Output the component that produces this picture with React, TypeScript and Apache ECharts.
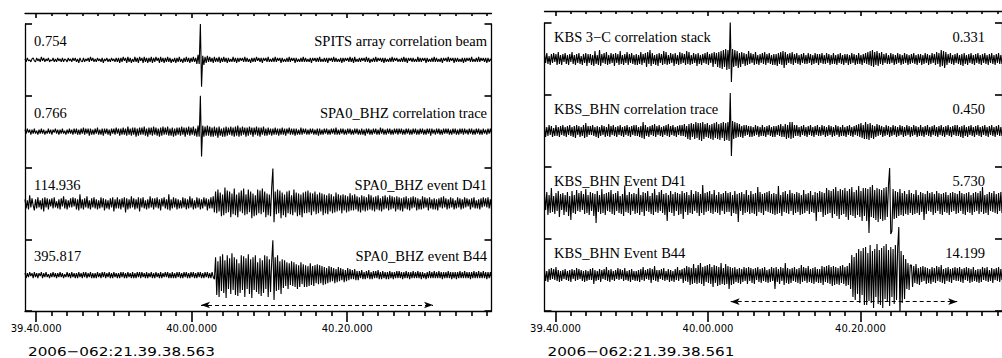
import React, { useEffect, useRef } from "react";
import * as echarts from "echarts";

// Record window: 60 s, times in seconds after 21:39:00
const WINDOW = 60;
const LEFT_START = 38.563;
const RIGHT_START = 38.561;
const LEFT_DATE = "2006−062:21.39.38.563";
const RIGHT_DATE = "2006−062:21.39.38.561";

const MAJOR_TICKS = [40, 60, 80];
const MAJOR_LABELS = ["39.40.000", "40.00.000", "40.20.000"];
const MINOR_STEP = 2;

const LEFT_NAMES = [
  "SPITS array correlation beam",
  "SPA0_BHZ correlation trace",
  "SPA0_BHZ event D41",
  "SPA0_BHZ event B44",
];
const LEFT_PEAKS = ["0.754", "0.766", "114.936", "395.817"];

const RIGHT_NAMES = [
  "KBS 3−C correlation stack",
  "KBS_BHN correlation trace",
  "KBS_BHN Event D41",
  "KBS_BHN Event B44",
];
const RIGHT_PEAKS = ["0.331", "0.450", "5.730", "14.199"];

// Duration arrows (start, end time in s)
const LEFT_ARROW = [61.2, 91.04];
const RIGHT_ARROW = [62.98, 92.69];

// Trace samples, uniformly spaced across the window (display units: 72 per trace slot)
const SPITS_BEAM = [
  1,-2,2,-1,0,-2,1,2,-1,-2, 2,-1,1,-2,3,-1,2,-2,1,-1, 2,-2,0,-1,2,-2,1,-2,2,-1, 1,-2,2,-2,1,0,-2,2,-1,1,
  -2,2,-1,2,-2,1,-3,2,-1,-2, 2,-2,1,-1,2,-2,3,-1,2,-2, 1,-2,2,-1,1,-2,2,-3,1,-1, 2,-2,1,-2,2,-1,1,-2,2,-2,
  2,-3,2,-2,3,-1,2,-3,3,-2, 2,-3,1,-2,3,-2,2,-3,3,-1, 2,-3,3,-2,2,-3,2,-2,3,-3, 2,-2,3,-1,2,-3,3,-2,2,-3,
  2,-2,3,-2,2,-3,1,-2,2,-3, 2,-2,3,-2,1,-3,2,-2,3,-2, 2,-3,2,-2,3,-2,2,-4,5,-4, 36,-27,4,-5,3,-3,4,-2,3,-2,
  2,-3,3,-2,2,-2,3,-3,2,-2, 3,-2,2,-3,2,-2,1,-2,3,-2, 2,-3,2,-2,2,-1,2,-2,3,-2, 2,-2,1,-3,2,-2,2,-2,3,-1,
  2,-2,2,-3,2,-1,2,-2,3,-2, 1,-2,2,-2,3,-2,2,-1,2,-3, 2,-2,1,-2,2,-2,3,-2,2,-1, 2,-3,2,-2,1,-2,2,-2,3,-2,
  2,-2,1,-2,2,-3,2,-1,2,-2, 2,-2,3,-2,1,-2,2,-2,2,-3, 2,-1,2,-2,3,-2,2,-2,1,-2, 2,-3,2,-2,2,-1,2,-2,3,-2,
  2,-3,3,-2,1,-2,2,-2,2,-1, 2,-2,3,-2,2,-3,1,-2,2,-2, 3,-2,2,-1,2,-2,2,-3,2,-2, 1,-2,2,-2,3,-2,2,-1,2,-2,
  1,-2,2,-2,3,-2,2,-3,2,-1, 2,-2,2,-2,1,-2,3,-2,2,-2, 2,-1,2,-3,2,-2,1,-2,2,-2, 3,-2,2,-2,1,-2,2,-3,2,-1,
  2,-2,3,-2,2,-1,2,-3,2,-2, 2,-2,1,-2,2,-3,2,-2,2,-1, 2,-2,3,-2,1,-2,2,-2,3,-2, 2,-1,2,-2,2,-3,2,-2,1,-1,
];
const SPA0_CORR = [
  2,-2,3,-1,2,-3,2,-2,3,-2, 1,-3,2,-2,3,-2,2,-3,1,-2, 3,-2,2,-3,2,-1,3,-2,2,-3, 2,-2,3,-2,1,-3,2,-2,3,-2,
  2,-3,3,-2,3,-3,2,-3,3,-2, 4,-3,3,-2,3,-4,3,-3,2,-3, 3,-2,4,-3,2,-3,3,-4,3,-2, 3,-3,2,-4,3,-2,3,-3,4,-2,
  3,-4,3,-3,4,-3,3,-4,5,-3, 3,-4,4,-3,4,-5,3,-4,4,-3, 4,-3,5,-4,3,-5,4,-3,4,-4, 5,-3,4,-4,3,-5,4,-4,5,-3,
  4,-3,5,-4,3,-4,4,-5,3,-4, 4,-3,4,-4,5,-3,4,-5,4,-3, 5,-4,4,-3,5,-4,3,-5,6,-5, 36,-25,6,-5,5,-4,6,-4,5,-5,
  4,-5,5,-4,4,-6,5,-4,3,-5, 4,-5,5,-4,4,-3,5,-4,4,-5, 5,-4,6,-5,4,-4,5,-3,4,-5, 4,-4,5,-3,4,-5,4,-3,5,-4,
  4,-5,4,-3,5,-4,3,-4,4,-3, 3,-4,3,-3,4,-3,3,-4,3,-3, 4,-3,3,-4,3,-2,4,-3,3,-3, 3,-4,3,-3,2,-3,4,-3,3,-2,
  3,-3,2,-3,3,-2,3,-3,2,-3, 3,-4,3,-3,2,-3,3,-2,3,-3, 2,-3,3,-2,3,-3,4,-3,2,-3, 3,-2,3,-3,2,-3,3,-2,3,-3,
  2,-3,3,-2,3,-3,2,-3,3,-3, 2,-4,3,-2,3,-3,2,-3,3,-2, 3,-3,2,-3,4,-2,3,-3,2,-3, 3,-2,3,-3,2,-3,3,-2,3,-3,
  3,-2,3,-3,2,-3,3,-2,3,-3, 2,-3,3,-2,3,-3,2,-3,3,-2, 3,-3,2,-3,3,-2,3,-4,3,-2, 2,-3,3,-2,3,-3,2,-3,3,-2,
  3,-2,3,-3,2,-3,3,-2,3,-3, 2,-3,3,-2,3,-3,3,-2,2,-3, 3,-2,3,-3,2,-3,3,-2,3,-3, 2,-3,3,-2,2,-3,3,-2,3,-2,
];
const SPA0_D41 = [
  4,-5,3,-6,8,-4,5,-2,-7,4, -5,6,-4,3,-6,5,-8,6,-4,5, -6,4,-3,5,-5,6,-4,2,-5,4, -6,5,-3,7,-5,4,-6,3,-4,5,
  -4,6,-3,5,-6,4,-7,9,-5,4, -6,5,-4,7,-5,3,-6,5,-4,6, -5,4,-6,3,-5,6,-4,5,-7,4, -5,3,-6,5,-4,6,-8,4,-5,6,
  -5,4,-6,5,-4,6,-9,5,-6,4, -5,7,-4,5,-6,4,-5,6,-8,5, -4,6,-5,3,-6,4,-5,7,-4,5, -6,5,-4,6,-5,4,-7,5,-3,6,
  -5,4,-6,9,-7,4,-5,6,-4,5, -6,4,-5,3,-5,6,-4,5,-6,4, -5,7,-4,5,-6,3,-5,6,-4,5, -6,4,-5,6,-3,5,-7,4,-5,6,
  -5,7,-9,12,-10,14,-8,11,-13,9, -12,16,-10,13,-9,12,-14,10,-11,15, -12,9,-14,11,-8,13,-10,15,-12,9, -11,14,-9,12,-15,10,-13,8,-12,14,
  -10,13,-11,15,-9,12,-14,10,-12,9, -13,16,35,-19,12,-11,14,-10,13,-15, 11,-12,9,-14,12,-10,13,-11,8,-12, 14,-9,11,-13,10,-12,9,-14,11,-10,
  12,-10,13,-9,11,-12,10,-8,12,-11, 9,-10,11,-8,10,-12,9,-10,8,-11, 10,-8,9,-10,7,-9,11,-8,9,-7, 8,-10,9,-7,8,-9,7,-8,10,-7,
  8,-7,9,-6,7,-8,6,-9,8,-7, 7,-8,6,-7,9,-6,8,-7,6,-8, 7,-6,8,-7,5,-8,7,-6,8,-5, 6,-7,8,-6,7,-5,6,-8,7,-6,
  6,-7,5,-8,6,-5,7,-6,5,-7, 6,-5,7,-4,6,-7,5,-6,4,-6, 7,-5,6,-4,5,-7,6,-5,4,-6, 5,-6,4,-7,5,-4,6,-5,7,-4,
  5,-6,4,-5,6,-4,5,-6,3,-5, 6,-4,5,-6,4,-5,6,-4,5,-3, 4,-6,5,-4,6,-5,3,-5,4,-6, 5,-4,6,-3,5,-4,6,-5,4,-5,
];
const SPA0_B44 = [
  2,-3,2,-2,3,-1,2,-3,3,-2, 2,-3,2,-1,3,-3,2,-2,3,-2, 1,-3,2,-2,3,-2,2,-3,2,-2, 3,-2,2,-3,1,-2,3,-2,2,-3,
  3,-2,2,-3,2,-3,3,-2,2,-3, 3,-2,3,-3,2,-2,3,-3,2,-3, 2,-3,3,-2,2,-3,3,-2,3,-3, 2,-2,3,-3,2,-3,3,-2,2,-3,
  2,-3,3,-2,3,-3,2,-3,3,-2, 2,-3,3,-3,2,-3,3,-2,3,-3, 3,-2,2,-3,3,-3,2,-2,3,-3, 2,-3,3,-2,2,-3,3,-3,2,-2,
  3,-2,3,-3,2,-3,3,-3,2,-3, 3,-2,3,-3,2,-3,3,-2,3,-3, 2,-3,3,-2,3,-3,2,-3,3,-2, 3,-3,2,-3,3,-2,3,-3,2,-3,
  3,-2,-4,18,-20,14,-22,19,-16,21, -18,15,-23,20,-14,17,-19,22,-15,18, -20,16,-21,12,-18,20,-15,19,-22,17, -14,21,-19,16,-23,18,-15,20,-17,13,
  -19,17,-21,15,-18,20,-14,19,-22,16, -17,14,35,-25,18,-16,20,-15,14,-19, 16,-13,15,-11,13,-14,12,-10,14,-11, 13,-12,11,-14,10,-12,13,-9,11,-12,
  10,-12,9,-11,12,-10,9,-11,10,-8, 11,-9,10,-8,9,-10,8,-9,7,-8, 9,-7,8,-6,7,-8,6,-7,8,-6, 7,-5,6,-7,5,-6,7,-5,6,-4,
  5,-4,6,-5,4,-5,4,-3,5,-4, 3,-4,4,-3,5,-4,3,-4,4,-3, 4,-3,5,-4,3,-4,4,-3,3,-4, 3,-4,4,-3,3,-4,3,-3,4,-3,
  4,-3,3,-4,3,-3,4,-3,3,-4, 3,-3,4,-3,3,-3,4,-3,3,-4, 3,-3,2,-4,3,-3,4,-3,3,-3, 4,-3,3,-3,4,-3,3,-4,3,-3,
  3,-3,4,-3,3,-4,3,-3,3,-4, 3,-3,4,-3,3,-3,4,-3,3,-3, 3,-4,3,-3,4,-3,3,-3,4,-3, 3,-3,4,-3,3,-4,3,-3,3,-3,
];
const KBS_STACK = [
  5,-4,6,-5,3,-6,5,-4,6,-3, 5,-6,7,-5,4,-6,5,-3,6,-5, 4,-6,5,-3,7,-5,4,-6,5,-4, 6,-5,3,-6,5,-4,6,-7,5,-4,
  5,-6,4,-7,8,-5,4,-6,9,-7, 5,-4,6,-5,7,-6,4,-5,6,-4, 5,-7,6,-4,5,-6,8,-5,4,-6, 5,-4,7,-6,5,-4,6,-5,4,-6,
  5,-6,4,-5,7,-6,5,-4,6,-8, 7,-5,9,-7,6,-5,4,-6,5,-7, 6,-4,5,-6,8,-5,7,-6,4,-5, 6,-4,5,-7,6,-5,4,-6,7,-5,
  6,-4,5,-6,8,-5,7,-6,4,-5, 6,-4,5,-7,6,-5,4,-6,5,-4, 6,-5,7,-6,5,-4,6,-8,7,-5, 6,-8,7,-9,8,-10,9,-8,10,-11,
  9,-10,38,-23,10,-8,9,-7,8,-9, 6,-8,7,-5,6,-7,5,-6,8,-5, 6,-4,5,-6,7,-5,4,-6,5,-4, 6,-5,7,-6,5,-4,6,-5,4,-6,
  5,-6,5,-7,6,-5,7,-6,8,-9, 7,-6,5,-4,6,-5,7,-6,5,-4, 6,-5,4,-6,5,-4,6,-5,4,-5, 6,-4,5,-6,4,-5,6,-4,5,-6,
  5,-4,6,-5,4,-5,6,-4,5,-6, 4,-5,6,-5,4,-6,5,-4,6,-5, 4,-6,5,-4,5,-6,4,-5,6,-4, 5,-6,4,-5,6,-5,4,-6,5,-4,
  6,-5,7,-6,8,-7,9,-8,7,-6, 8,-7,6,-5,7,-6,5,-4,6,-5, 4,-5,6,-4,5,-6,4,-5,6,-4, 5,-6,4,-5,6,-4,5,-6,4,-5,
  5,-4,6,-5,4,-6,5,-4,5,-6, 4,-5,6,-4,5,-6,4,-5,6,-4, 5,-6,7,-5,6,-8,9,-7,8,-9, 7,-6,5,-4,6,-5,4,-6,5,-4,
  6,-5,4,-6,5,-7,6,-5,4,-6, 5,-4,6,-5,4,-6,5,-4,6,-5, 4,-6,5,-4,6,-5,4,-6,5,-4, 6,-5,4,-6,5,-4,6,-5,4,-5,
];
const KBS_CORR = [
  5,-6,4,-5,6,-4,5,-6,3,-5, 6,-5,4,-6,5,-4,6,-5,4,-6, 5,-4,6,-5,4,-6,5,-7,6,-4, 5,-6,4,-5,6,-7,8,-6,5,-4,
  5,-4,6,-5,4,-6,5,-7,4,-5, 6,-4,5,-6,4,-5,7,-6,5,-4, 6,-5,4,-6,5,-4,6,-5,4,-6, 5,-4,6,-5,4,-6,5,-4,6,-5,
  6,-5,4,-6,5,-7,9,-8,6,-5, 4,-6,5,-4,6,-5,7,-6,5,-4, 6,-5,4,-6,5,-4,6,-5,7,-6, 5,-4,6,-5,4,-6,5,-4,6,-5,
  6,-5,7,-6,5,-8,7,-9,8,-6, 7,-8,9,-7,8,-9,8,-10,9,-8, 7,-6,8,-7,6,-8,7,-9,8,-7, 9,-8,7,-9,8,-7,9,-10,8,-9,
  9,-10,38,-25,10,-8,9,-7,8,-6, 7,-6,5,-7,6,-5,6,-4,5,-6, 5,-6,4,-5,6,-4,5,-6,4,-5, 6,-5,4,-6,5,-4,6,-5,4,-6,
  5,-6,5,-4,6,-5,7,-6,5,-6, 7,-8,6,-7,9,-8,9,-7,6,-5, 6,-5,4,-6,5,-4,6,-5,4,-6, 5,-4,6,-5,4,-6,5,-4,6,-5,
  4,-5,6,-4,5,-6,4,-5,6,-4, 5,-6,4,-5,6,-4,5,-6,4,-5, 6,-5,4,-6,5,-4,6,-5,4,-6, 5,-4,6,-5,7,-6,8,-7,6,-8,
  9,-8,7,-9,8,-7,6,-8,5,-6, 7,-5,6,-4,5,-6,4,-5,6,-4, 5,-6,4,-5,6,-4,5,-6,4,-5, 6,-4,5,-6,4,-5,6,-4,5,-6,
  4,-5,6,-4,5,-6,4,-5,6,-5, 4,-6,5,-4,6,-5,4,-6,5,-4, 6,-5,4,-6,5,-4,6,-5,4,-6, 5,-4,6,-5,4,-6,5,-4,6,-5,
  6,-5,4,-6,5,-7,6,-5,4,-6, 5,-4,6,-5,4,-6,5,-4,6,-5, 4,-6,5,-4,6,-5,4,-6,5,-4, 6,-5,4,-6,5,-4,6,-5,4,-5,
];
const KBS_D41 = [
  9,-7,11,-12,8,-10,15,-9,7,-11, 10,-8,12,-14,9,-7,10,-12,8,-9, 11,-13,7,-17,12,-10,8,-11,13,-8, 10,-9,12,-7,9,-11,14,-10,8,-12,
  11,-8,10,-13,9,-20,12,-9,8,-11, 14,-10,9,-12,10,-8,11,-9,13,-11, 9,-12,10,-8,12,-10,7,-11,9,-13, 17,-9,8,-10,11,-12,9,-8,10,-11,
  9,-10,15,-12,8,-9,11,-13,10,-8, 12,-9,7,-11,10,-12,14,-9,8,-10, 11,-8,13,-10,9,-12,10,-18,8,-9, 12,-10,9,-13,11,-8,10,-12,9,-11,
  12,-16,10,-9,11,-12,8,-10,13,-11, 9,-8,12,-10,11,-13,9,-10,18,-12, 10,-9,11,-8,12,-10,9,-11,13,-9, 8,-10,11,-12,9,-8,10,-11,12,-9,
  10,-9,11,-13,8,-10,12,-11,9,-19, 10,-8,11,-12,9,-10,13,-9,8,-11, 12,-10,9,-11,10,-13,16,-9,11,-10, 9,-12,10,-8,11,-9,12,-10,9,-11,
  10,-12,9,-11,17,-10,8,-13,11,-9, 12,-10,9,-11,13,-8,10,-12,9,-10, 11,-9,10,-12,8,-11,13,-10,9,-8, 10,-11,12,-9,8,-10,11,-18,10,-9,
  12,-9,11,-14,10,-12,15,-11,13,-10, 12,-15,14,-11,16,-13,12,-16,14,-12, 13,-11,15,-14,12,-17,14,-12,16,-13, 11,-15,13,-12,17,-14,12,-18,15,-13,
  15,-18,14,-30,16,-14,18,-15,13,-17, 15,-19,14,-16,13,-18,15,-17,16,-14, 18,35,-31,-28,14,-16,12,-15,11,-13, 14,-12,10,-13,12,-11,9,-12,13,-10,
  10,-12,9,-11,13,-10,8,-12,11,-9, 10,-17,9,-11,12,-8,10,-9,11,-12, 9,-10,12,-8,10,-11,9,-12,10,-9, 11,-10,8,-12,10,-9,11,-8,10,-11,
  9,-10,12,-8,10,-11,9,-12,10,-9, 11,-10,8,-12,10,-9,11,-8,10,-11, 12,-9,16,-11,8,-10,9,-12,11,-8, 10,-9,12,-10,9,-11,10,-8,11,-10,
];
const KBS_B44 = [
  5,-6,4,-7,6,-5,7,-4,6,-5, 8,-6,5,-7,4,-6,5,-4,6,-5, 4,-6,5,-7,6,-4,5,-6,7,-5, 6,-4,5,-6,4,-7,5,-6,4,-5,
  6,-5,7,-9,5,-6,4,-5,6,-7, 5,-4,6,-5,8,-6,5,-7,6,-5, 4,-6,5,-4,7,-5,6,-4,5,-6, 7,-5,4,-6,5,-7,6,-5,4,-6,
  4,-6,5,-7,6,-5,8,-6,5,-4, 6,-5,7,-8,6,-5,9,-6,5,-7, 5,-4,6,-5,7,-6,4,-5,6,-7, 5,-6,4,-7,6,-5,8,-6,5,-4,
  6,-8,7,-6,9,-7,8,-10,7,-9, 11,-8,7,-9,10,-8,12,-9,8,-11, 9,-7,10,-8,11,-9,8,-12,10,-8, 9,-11,8,-10,12,-9,7,-10,11,-9,
  9,-14,8,-10,7,-9,8,-7,6,-8, 7,-9,6,-7,8,-6,7,-9,8,-6, 7,-8,6,-9,7,-5,8,-7,6,-8, 7,-6,8,-7,5,-8,6,-7,8,-6,
  7,-14,8,-7,6,-9,8,-6,7,-10, 12,-8,7,-9,6,-8,7,-6,8,-7, 6,-8,7,-9,10,-7,8,-6,7,-8, 9,-7,6,-8,7,-9,8,-7,6,-8,
  6,-8,9,-10,8,-7,9,-8,10,-9, 8,-11,9,-10,8,-9,7,-10,9,-8, 10,-9,8,-11,9,-10,12,-14,20,-22, 18,-25,22,-19,26,-28,24,-20,27,-30,
  28,-30,22,-26,30,-28,24,-33,26,-22, 31,-29,25,-30,27,-33,29,-24,31,-27, 25,-31,28,-22,26,-29,30,-25,27,48, -40,24,-28,20,-24,16,-14,12,-15,10,
  10,-12,9,-8,11,-9,7,-10,8,-7, 9,-6,8,-9,7,-8,6,-9,8,-7, 7,-8,9,-6,8,-7,10,-8,6,-9, 7,-6,8,-7,6,-8,7,-5,8,-6,
  7,-6,8,-7,6,-8,7,-5,8,-6, 7,-8,6,-7,8,-6,5,-7,6,-8, 6,-7,8,-5,7,-6,8,-7,5,-6, 7,-8,6,-5,7,-6,8,-7,6,-5,
];

const SLOT_UNITS = 72;
const TRACE_COUNT = 4;

type Panel = {
  start: number;
  traces: number[][];
  names: string[];
  peaks: string[];
  date: string;
  arrow: number[];
  arrowLevel: number;
  left: number;
  top: number;
  width: number;
  height: number;
  topOffset: number;
  namesOnLeft: boolean;
  leftTextX: number;
  rightTextX: number;
  labelDy: number;
  dateX: number;
};

const PANELS: Panel[] = [
  {
    start: LEFT_START,
    traces: [SPITS_BEAM, SPA0_CORR, SPA0_D41, SPA0_B44],
    names: LEFT_NAMES,
    peaks: LEFT_PEAKS,
    date: LEFT_DATE,
    arrow: LEFT_ARROW,
    arrowLevel: 0.084,
    left: 25,
    top: 24,
    width: 466.5,
    height: 287,
    topOffset: 11,
    namesOnLeft: false,
    leftTextX: 34,
    rightTextX: 487,
    labelDy: 17,
    dateX: 28,
  },
  {
    start: RIGHT_START,
    traces: [KBS_STACK, KBS_CORR, KBS_D41, KBS_B44],
    names: RIGHT_NAMES,
    peaks: RIGHT_PEAKS,
    date: RIGHT_DATE,
    arrow: RIGHT_ARROW,
    arrowLevel: 0.13,
    left: 544.5,
    top: 23,
    width: 468,
    height: 288,
    topOffset: 12,
    namesOnLeft: true,
    leftTextX: 554,
    rightTextX: 985,
    labelDy: 14,
    dateX: 547.5,
  },
];

const INK = "#000";
const SERIF = "'Liberation Serif', 'Times New Roman', serif";
const SANS = "'DejaVu Sans', sans-serif";
const LABEL_SIZE = 14.5;
const FRAME_WIDTH = 1.3;
const TICK_WIDTH = 1.6;

function minorTicks(start: number): number[] {
  const out: number[] = [];
  for (let t = Math.ceil(start / MINOR_STEP) * MINOR_STEP; t <= start + WINDOW; t += MINOR_STEP) {
    if (!MAJOR_TICKS.includes(t)) out.push(t);
  }
  return out;
}

function textEl(x: number, y: number, text: string, align: string, family: string, size: number, extra: any = {}) {
  return {
    type: "text",
    x,
    y,
    silent: true,
    ...extra,
    style: {
      text,
      fill: INK,
      fontFamily: family,
      fontSize: size,
      align,
      textAlign: align,
      verticalAlign: "middle",
      textVerticalAlign: "middle",
    },
  };
}

function buildOption() {
  const grid: any[] = [];
  const xAxis: any[] = [];
  const yAxis: any[] = [];
  const series: any[] = [];
  const graphic: any[] = [];
  const axisLineStyle = () => ({ color: INK, width: FRAME_WIDTH });
  const tickStyle = () => ({ color: INK, width: TICK_WIDTH });

  PANELS.forEach((p, pi) => {
    grid.push({ left: p.left, top: p.top, width: p.width, height: p.height });
    const baseX = (extra: any) => ({
      type: "value",
      gridIndex: pi,
      min: p.start,
      max: p.start + WINDOW,
      splitLine: { show: false },
      axisLabel: { show: false },
      axisLine: { show: true, onZero: false, lineStyle: axisLineStyle() },
      ...extra,
    });
    const xBase = xAxis.length;
    // bottom: labelled major ticks
    xAxis.push(
      baseX({
        position: "bottom",
        axisTick: { show: true, length: 11, customValues: MAJOR_TICKS, lineStyle: tickStyle() },
        axisLabel: {
          show: true,
          customValues: MAJOR_TICKS,
          formatter: (v: number) => MAJOR_LABELS[MAJOR_TICKS.indexOf(v)] ?? "",
          margin: 12,
          color: INK,
          fontFamily: SANS,
          fontSize: 10,
        },
      })
    );
    // top scale line, ticks pointing down
    xAxis.push(
      baseX({
        position: "top",
        offset: p.topOffset,
        axisTick: { show: true, inside: true, length: 5, customValues: MAJOR_TICKS, lineStyle: tickStyle() },
      })
    );

    const yBase = yAxis.length;
    ["left", "right"].forEach((pos) => {
      yAxis.push({
        type: "value",
        gridIndex: pi,
        position: pos,
        min: 0,
        max: TRACE_COUNT,
        interval: 1,
        axisLine: { show: true, onZero: false, lineStyle: axisLineStyle() },
        axisTick: { show: true, inside: true, length: 7, lineStyle: tickStyle() },
        axisLabel: { show: false },
        splitLine: { show: false },
      });
    });

    p.traces.forEach((samples, k) => {
      const base = TRACE_COUNT - k - 0.5;
      const dt = WINDOW / (samples.length - 1);
      const s: any = {
        type: "line",
        xAxisIndex: xBase,
        yAxisIndex: yBase,
        data: samples.map((v, i) => [p.start + i * dt, base + v / SLOT_UNITS]),
        showSymbol: false,
        symbol: "none",
        silent: true,
        clip: true,
        lineStyle: { color: INK, width: 1.1 },
      };
      if (k === TRACE_COUNT - 1) {
        s.markLine = {
          silent: true,
          animation: false,
          symbol: ["arrow", "arrow"],
          symbolSize: [5, 9],
          label: { show: false },
          lineStyle: { color: INK, width: 1, type: [4, 3] },
          emphasis: { disabled: true },
          data: [
            [
              { coord: [p.arrow[0], p.arrowLevel] },
              { coord: [p.arrow[1], p.arrowLevel] },
            ],
          ],
        };
      }
      series.push(s);

      const y = p.top + (k * p.height) / TRACE_COUNT + p.labelDy;
      const leftText = p.namesOnLeft ? p.names[k] : p.peaks[k];
      const rightText = p.namesOnLeft ? p.peaks[k] : p.names[k];
      graphic.push(textEl(p.leftTextX, y, leftText, "left", SERIF, LABEL_SIZE));
      graphic.push(textEl(p.rightTextX, y, rightText, "right", SERIF, LABEL_SIZE));
    });

    // 2 s minor ticks on the bottom axis and on the top scale line
    const topOffset = p.topOffset;
    series.push({
      type: "custom",
      xAxisIndex: xBase,
      yAxisIndex: yBase,
      silent: true,
      clip: false,
      z: 5,
      data: minorTicks(p.start).map((t) => [t, 0]),
      renderItem: (_params: any, api: any) => {
        const t = api.value(0);
        const bottom = api.coord([t, 0]);
        const top = api.coord([t, TRACE_COUNT]);
        const x = Math.round(bottom[0]);
        const yb = Math.round(bottom[1]);
        const yt = Math.round(top[1]) - topOffset;
        return {
          type: "group",
          children: [
            { type: "line", shape: { x1: x, y1: yb, x2: x, y2: yb + 5 }, style: { stroke: INK, lineWidth: TICK_WIDTH } },
            { type: "line", shape: { x1: x, y1: yt, x2: x, y2: yt + 3 }, style: { stroke: INK, lineWidth: TICK_WIDTH } },
          ],
        };
      },
    });

    graphic.push(textEl(p.dateX, 351, p.date, "left", SANS, 13, { scaleX: 1.17 }));
  });

  return {
    animation: false,
    backgroundColor: "#fff",
    grid,
    xAxis,
    yAxis,
    series,
    graphic,
  };
}

export default function App() {
  const ref = useRef<HTMLDivElement>(null);
  useEffect(() => {
    if (!ref.current) return;
    const chart = echarts.init(ref.current, undefined, { renderer: "svg" });
    chart.setOption(buildOption() as any);
    return () => chart.dispose();
  }, []);
  return (
    <div
      ref={ref}
      style={{ position: "absolute", left: 0, top: 0, width: 1002, height: 358 }}
    />
  );
}
